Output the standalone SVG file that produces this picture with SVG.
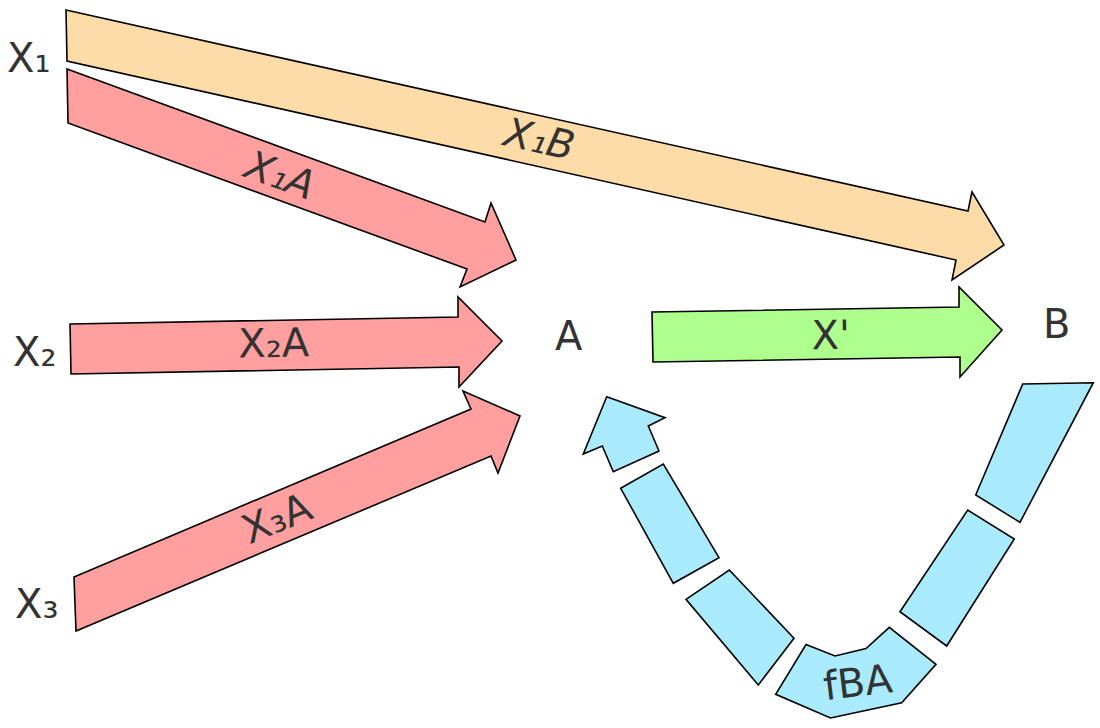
<svg xmlns="http://www.w3.org/2000/svg" width="1100" height="728" viewBox="0 0 1100 728">
<style>
.a{stroke:#000;stroke-width:1.6;stroke-linejoin:miter}
.o{fill:#fddca7}
.r{fill:#ff9f9f}
.g{fill:#aeff8e}
.b{fill:#a9eafd}
text{font-family:"DejaVu Sans","Liberation Sans",sans-serif;font-size:40px;fill:#333}
.it{font-style:italic}
.c{text-anchor:middle}
</style>
<rect width="1100" height="728" fill="#fff"/>
<g id="node-X1"><text x="7" y="72">X₁</text></g>
<g id="node-X2"><text x="13" y="366">X₂</text></g>
<g id="node-X3"><text x="15" y="618">X₃</text></g>
<g id="node-A"><text x="555" y="350">A</text></g>
<g id="node-B"><text x="1043" y="338">B</text></g>
<g id="connectors">
<g id="X1B">
<polygon class="a o" points="66,10 968,211 972,192 1004,245 952,280 956,260 67,61"/>
<text class="it c" transform="translate(536.5,152.5) rotate(12.6)">X₁B</text>
</g>
<g id="X1A">
<polygon class="a r" points="67,69 485,222 491,203 516,260 460,287 467,269 68,123"/>
<text class="it c" transform="translate(275.5,188) rotate(20)">X₁A</text>
</g>
<g id="X2A">
<polygon class="a r" points="70,324 458,317 458,297 502,341 459,387 459,367 71,374"/>
<text class="c" transform="translate(274,357) rotate(-1)">X₂A</text>
</g>
<g id="X3A">
<polygon class="a r" points="74,577 471,409 463,391 520,416 498,473 491,456 76,631"/>
<text class="c" transform="translate(282,531) rotate(-22.5)">X₃A</text>
</g>
<g id="Xp">
<polygon class="a g" points="652,312 959,307 959,287 1002,330 960,377 960,357 653,362"/>
<text class="c" transform="translate(831,349) rotate(-0.9)">X'</text>
</g>
<g id="fBA">
<polygon class="a b" points="975.7,495 1022.7,384 1093.3,382.7 1020,522.3"/>
<polygon class="a b" points="900,611.7 967.7,510 1014.3,539 946.7,646"/>
<polygon class="a b" points="806,644.5 835,656 866,648.5 889.3,627.3 936,664.3 901.7,702.7 830.5,718 775.7,694.3"/>
<polygon class="a b" points="686,599.3 729.3,570 794,638.3 758.3,685"/>
<polygon class="a b" points="620.7,488.3 663.3,464 719,557.7 673.3,583.3"/>
<polygon class="a b" points="606.7,396.7 665,417.7 648.3,426 659,451 613.3,471.7 602.3,446 583.3,454"/>
<text class="c" transform="translate(859.5,696) rotate(-7)">fBA</text>
</g>
</g>
</svg>
